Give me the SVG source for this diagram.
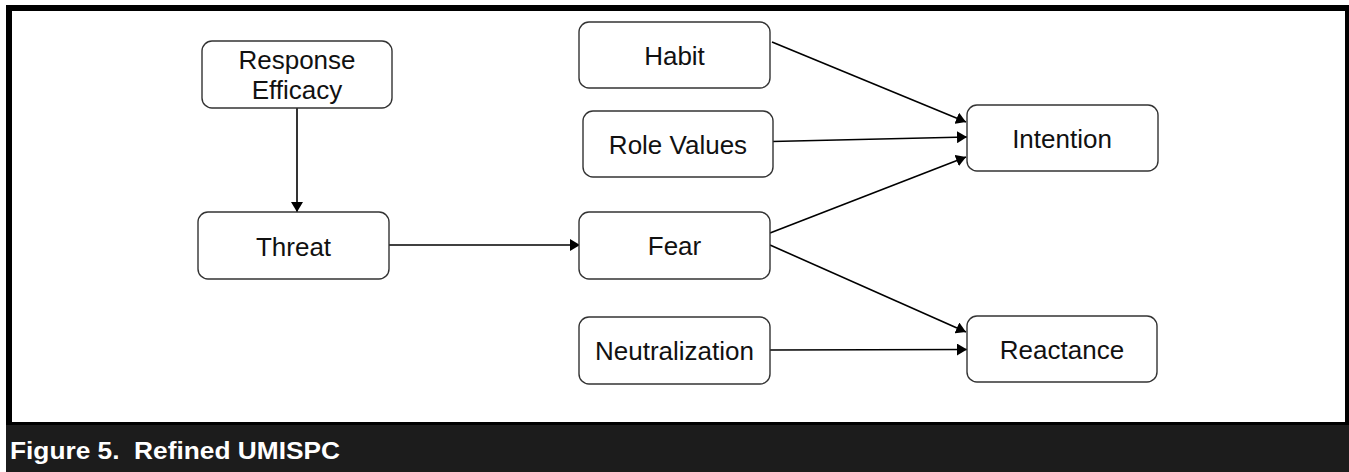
<svg xmlns="http://www.w3.org/2000/svg" width="1349" height="472" viewBox="0 0 1349 472">
<style>
.node rect{fill:#fff;stroke:#333;stroke-width:1.4}
.node text{font-family:"Liberation Sans",Arial,sans-serif;font-size:26px;fill:#111;text-anchor:middle}
.conn line{stroke:#000;stroke-width:1.6;marker-end:url(#arr)}
.cap{font-family:"Liberation Sans",Arial,sans-serif;font-size:24px;font-weight:bold;fill:#fff}
</style>
<defs>
<marker id="arr" viewBox="0 0 10 12" refX="10" refY="6" markerWidth="10" markerHeight="12" markerUnits="userSpaceOnUse" orient="auto">
<path d="M0,0 L10,6 L0,12 z" fill="#000"/>
</marker>
</defs>
<rect x="0" y="0" width="1349" height="472" fill="#fff"/>
<g id="frame">
<rect x="6" y="5" width="1343" height="421" fill="#000"/>
<rect x="12" y="11" width="1333" height="411" fill="#fff"/>
<rect x="6" y="425" width="1343" height="47" fill="#1c1c1c"/>
<text class="cap" x="10" y="459" xml:space="preserve" textLength="330" lengthAdjust="spacingAndGlyphs">Figure 5.  Refined UMISPC</text>
</g>
<g id="connectors" class="conn">
<line x1="297" y1="108" x2="297" y2="212"/>
<line x1="389" y1="245" x2="580" y2="245"/>
<line x1="772" y1="42" x2="966" y2="122"/>
<line x1="772" y1="141.5" x2="967" y2="137"/>
<line x1="770" y1="233" x2="966" y2="157"/>
<line x1="770" y1="245" x2="966" y2="332"/>
<line x1="770" y1="350" x2="967" y2="349.5"/>
</g>
<g id="response-efficacy" class="node">
<rect x="202" y="41" width="190" height="67" rx="10"/>
<text x="297" y="69">Response</text>
<text x="297" y="99">Efficacy</text>
</g>
<g id="threat" class="node">
<rect x="198" y="212" width="191" height="67" rx="10"/>
<text x="293.5" y="256">Threat</text>
</g>
<g id="habit" class="node">
<rect x="579" y="22" width="191" height="66" rx="10"/>
<text x="674.5" y="65">Habit</text>
</g>
<g id="role-values" class="node">
<rect x="583" y="111" width="190" height="66" rx="10"/>
<text x="678" y="154">Role Values</text>
</g>
<g id="intention" class="node">
<rect x="967" y="105" width="191" height="66" rx="10"/>
<text x="1062" y="148">Intention</text>
</g>
<g id="fear" class="node">
<rect x="579" y="212" width="191" height="67" rx="10"/>
<text x="674.5" y="255">Fear</text>
</g>
<g id="neutralization" class="node">
<rect x="579" y="317" width="191" height="67" rx="10"/>
<text x="674.5" y="360">Neutralization</text>
</g>
<g id="reactance" class="node">
<rect x="967" y="316" width="190" height="66" rx="10"/>
<text x="1062" y="359">Reactance</text>
</g>
</svg>
